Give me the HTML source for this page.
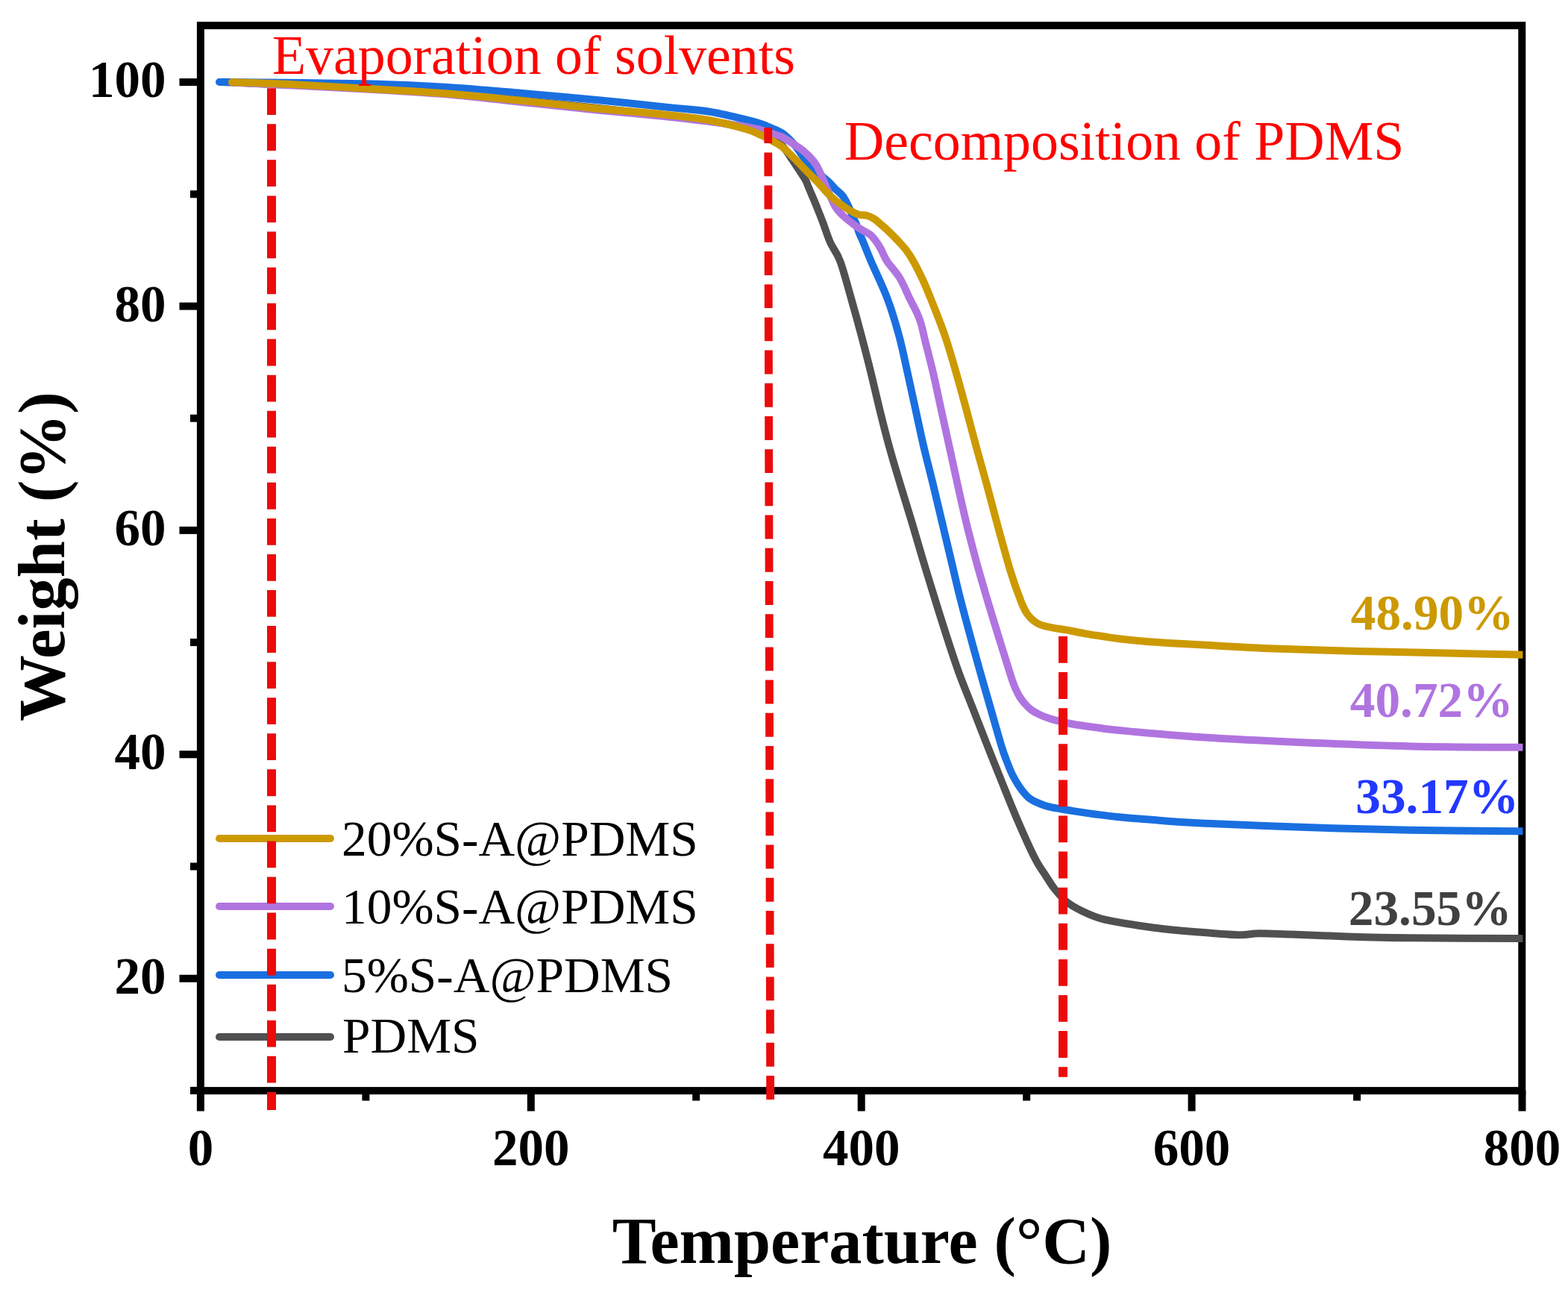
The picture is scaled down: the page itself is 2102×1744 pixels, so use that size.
<!DOCTYPE html>
<html><head><meta charset="utf-8"><style>
html,body{margin:0;padding:0;background:#fff;}
svg{display:block;}
text{font-family:"Liberation Serif","Times New Roman",serif;}
</style></head><body>
<svg width="2102" height="1744" viewBox="0 0 2102 1744">
<rect width="2102" height="1744" fill="#fff"/>
<defs><clipPath id="cp"><rect x="0" y="0" width="2041.5" height="1744"/></clipPath></defs>
<g fill="none" stroke="#000" stroke-width="10" stroke-linecap="butt">
<rect x="268.9" y="34.2" width="1771.4" height="1427.9" stroke-linejoin="miter"/>
<line x1="268.9" y1="1462" x2="268.9" y2="1489.5"/><line x1="711.8" y1="1462" x2="711.8" y2="1489.5"/><line x1="1154.7" y1="1462" x2="1154.7" y2="1489.5"/><line x1="1597.6" y1="1462" x2="1597.6" y2="1489.5"/><line x1="2040.5" y1="1462" x2="2040.5" y2="1489.5"/><line x1="490.4" y1="1462" x2="490.4" y2="1475.5"/><line x1="933.2" y1="1462" x2="933.2" y2="1475.5"/><line x1="1376.2" y1="1462" x2="1376.2" y2="1475.5"/><line x1="1819.1" y1="1462" x2="1819.1" y2="1475.5"/><line x1="240.5" y1="1311.7" x2="269" y2="1311.7"/><line x1="240.5" y1="1011.3" x2="269" y2="1011.3"/><line x1="240.5" y1="710.9" x2="269" y2="710.9"/><line x1="240.5" y1="410.5" x2="269" y2="410.5"/><line x1="240.5" y1="110.1" x2="269" y2="110.1"/><line x1="255" y1="1461.9" x2="269" y2="1461.9"/><line x1="255" y1="1161.5" x2="269" y2="1161.5"/><line x1="255" y1="861.1" x2="269" y2="861.1"/><line x1="255" y1="560.7" x2="269" y2="560.7"/><line x1="255" y1="260.3" x2="269" y2="260.3"/>
</g>
<g fill="none" stroke-width="10" stroke-linecap="round" stroke-linejoin="round" clip-path="url(#cp)">
<path stroke="#505050" d="M300.0 110.0 C346.7 112.3 480.0 116.3 580.0 124.0 C680.0 131.7 830.0 148.0 900.0 156.0 C970.0 164.0 976.7 166.3 1000.0 172.0 C1023.3 177.7 1031.7 185.8 1040.0 190.0 C1048.3 194.2 1046.2 192.8 1050.0 197.0 C1053.8 201.2 1057.9 207.9 1062.7 215.1 C1067.5 222.3 1075.5 234.2 1079.0 240.0 C1082.5 245.8 1082.0 246.7 1083.5 250.0 C1085.0 253.3 1086.3 256.7 1087.7 260.0 C1089.1 263.3 1090.6 266.7 1092.0 270.0 C1093.4 273.3 1094.0 275.0 1096.0 280.0 C1098.0 285.0 1101.0 292.5 1103.8 300.0 C1106.6 307.5 1109.3 316.7 1113.0 325.0 C1116.7 333.3 1121.5 337.5 1126.2 350.0 C1130.9 362.5 1136.2 383.3 1141.0 400.0 C1145.8 416.7 1150.4 433.3 1154.8 450.0 C1159.2 466.7 1163.5 483.3 1167.6 500.0 C1171.7 516.7 1175.4 533.3 1179.5 550.0 C1183.6 566.7 1187.8 583.3 1192.4 600.0 C1197.0 616.7 1202.1 633.3 1207.1 650.0 C1212.1 666.7 1217.4 683.3 1222.4 700.0 C1227.4 716.7 1232.1 733.3 1237.1 750.0 C1242.1 766.7 1247.2 783.3 1252.4 800.0 C1257.6 816.7 1262.7 833.3 1268.1 850.0 C1273.5 866.7 1278.8 883.3 1284.8 900.0 C1290.8 916.7 1297.8 933.3 1304.3 950.0 C1310.8 966.7 1317.2 983.3 1323.8 1000.0 C1330.4 1016.7 1337.0 1033.3 1343.8 1050.0 C1350.5 1066.7 1357.1 1083.3 1364.3 1100.0 C1371.5 1116.7 1381.1 1138.2 1387.1 1150.0 C1393.0 1161.8 1395.5 1164.0 1400.0 1171.0 C1404.5 1178.0 1408.9 1185.6 1414.0 1192.0 C1419.1 1198.4 1424.5 1204.6 1430.5 1209.4 C1436.5 1214.2 1442.4 1217.3 1450.0 1221.0 C1457.6 1224.7 1465.5 1228.5 1476.2 1231.5 C1486.9 1234.5 1500.3 1236.5 1514.3 1238.8 C1528.3 1241.1 1542.9 1243.3 1560.0 1245.2 C1577.1 1247.1 1600.0 1249.0 1617.0 1250.3 C1634.0 1251.6 1650.2 1253.0 1662.0 1253.2 C1673.8 1253.4 1676.4 1251.3 1688.0 1251.2 C1699.6 1251.1 1712.7 1251.9 1731.4 1252.6 C1750.1 1253.3 1773.3 1254.4 1800.0 1255.2 C1826.7 1256.0 1851.3 1256.8 1891.5 1257.3 C1931.7 1257.8 2016.1 1258.0 2041.0 1258.1"/>
<path stroke="#1A6FE0" d="M294.0 110.0 C328.3 110.4 449.0 111.3 500.0 112.5 C551.0 113.7 566.7 114.9 600.0 117.0 C633.3 119.1 666.7 122.2 700.0 125.0 C733.3 127.8 766.7 130.8 800.0 134.0 C833.3 137.2 875.0 141.8 900.0 144.4 C925.0 147.0 933.3 146.8 950.0 149.5 C966.7 152.2 988.3 157.6 1000.0 160.3 C1011.7 163.1 1014.2 164.1 1020.0 166.0 C1025.8 167.9 1030.0 169.8 1035.0 172.0 C1040.0 174.2 1045.0 175.8 1050.0 179.5 C1055.0 183.2 1060.0 188.2 1065.0 194.0 C1070.0 199.8 1075.0 208.5 1080.0 214.5 C1085.0 220.5 1090.0 225.2 1095.0 230.0 C1100.0 234.8 1105.8 239.1 1110.0 243.0 C1114.2 246.9 1116.7 250.2 1120.0 253.5 C1123.3 256.8 1126.9 258.8 1130.0 263.0 C1133.1 267.2 1136.1 273.9 1138.4 278.7 C1140.7 283.5 1142.0 288.1 1143.6 291.7 C1145.1 295.2 1146.3 296.6 1147.7 300.0 C1149.1 303.4 1150.2 308.3 1151.8 312.3 C1153.3 316.3 1154.4 317.7 1157.0 324.0 C1159.6 330.3 1162.2 337.3 1167.6 350.0 C1173.0 362.7 1183.2 383.3 1189.5 400.0 C1195.8 416.7 1200.7 433.3 1205.2 450.0 C1209.7 466.7 1213.0 483.3 1216.7 500.0 C1220.4 516.7 1223.9 533.3 1227.6 550.0 C1231.2 566.7 1234.7 583.3 1238.6 600.0 C1242.5 616.7 1247.0 633.3 1251.0 650.0 C1255.0 666.7 1258.9 683.3 1262.9 700.0 C1266.9 716.7 1270.8 733.3 1274.8 750.0 C1278.8 766.7 1282.5 783.3 1286.7 800.0 C1290.9 816.7 1295.5 833.3 1300.0 850.0 C1304.5 866.7 1309.1 883.3 1313.8 900.0 C1318.5 916.7 1323.3 933.3 1328.1 950.0 C1332.9 966.7 1338.9 988.3 1342.5 1000.0 C1346.1 1011.7 1347.2 1014.0 1349.5 1020.0 C1351.8 1026.0 1353.8 1031.2 1356.0 1036.0 C1358.2 1040.8 1360.7 1045.1 1363.0 1049.0 C1365.3 1052.9 1367.2 1055.8 1370.0 1059.3 C1372.8 1062.8 1376.7 1067.5 1380.0 1070.2 C1383.3 1072.9 1385.8 1073.8 1390.0 1075.6 C1394.2 1077.4 1399.8 1079.7 1405.0 1081.1 C1410.2 1082.5 1415.2 1083.2 1421.0 1084.2 C1426.8 1085.2 1431.8 1086.2 1440.0 1087.4 C1448.2 1088.7 1460.0 1090.4 1470.0 1091.7 C1480.0 1093.0 1488.3 1094.1 1500.0 1095.2 C1511.7 1096.3 1521.6 1097.2 1540.0 1098.6 C1558.4 1100.0 1575.3 1101.8 1610.5 1103.5 C1645.7 1105.2 1704.2 1107.5 1751.0 1109.1 C1797.8 1110.6 1843.2 1111.9 1891.5 1112.8 C1939.8 1113.7 2016.1 1114.0 2041.0 1114.2"/>
<path stroke="#B074E0" d="M311.0 110.5 C342.5 112.1 451.8 117.3 500.0 120.0 C548.2 122.7 566.7 123.7 600.0 126.5 C633.3 129.3 666.7 133.5 700.0 137.0 C733.3 140.5 766.7 144.2 800.0 147.5 C833.3 150.8 866.7 153.3 900.0 157.0 C933.3 160.7 976.7 166.0 1000.0 169.9 C1023.3 173.8 1031.7 178.3 1040.0 180.7 C1048.3 183.1 1045.8 182.3 1050.0 184.5 C1054.2 186.7 1060.0 190.6 1065.0 194.0 C1070.0 197.4 1075.0 200.2 1080.0 205.0 C1085.0 209.8 1090.0 214.0 1095.0 222.5 C1100.0 231.0 1105.8 246.8 1110.0 256.0 C1114.2 265.2 1116.7 272.0 1120.0 277.5 C1123.3 283.0 1125.7 284.9 1130.0 289.0 C1134.3 293.1 1141.6 298.7 1146.0 302.0 C1150.4 305.3 1153.0 306.6 1156.5 308.7 C1160.0 310.8 1163.8 312.4 1166.8 314.9 C1169.8 317.4 1172.2 320.5 1174.6 323.7 C1177.0 326.9 1178.6 329.6 1181.0 334.0 C1183.4 338.4 1184.9 343.7 1189.0 350.0 C1193.1 356.3 1200.7 363.7 1205.8 372.0 C1210.9 380.3 1215.5 392.0 1219.4 400.0 C1223.4 408.0 1226.9 414.2 1229.5 420.0 C1232.1 425.8 1233.1 428.3 1235.0 435.0 C1236.9 441.7 1238.3 449.2 1241.0 460.0 C1243.7 470.8 1247.5 485.0 1251.0 500.0 C1254.5 515.0 1258.2 533.3 1261.9 550.0 C1265.6 566.7 1269.2 583.3 1272.9 600.0 C1276.6 616.7 1280.1 633.3 1283.8 650.0 C1287.5 666.7 1291.2 683.3 1295.2 700.0 C1299.2 716.7 1303.6 733.3 1308.1 750.0 C1312.6 766.7 1317.5 783.3 1322.4 800.0 C1327.3 816.7 1332.5 833.3 1337.6 850.0 C1342.7 866.7 1349.9 889.5 1353.2 900.0 C1356.5 910.5 1356.0 909.1 1357.4 913.1 C1358.8 917.1 1360.1 920.3 1361.7 923.8 C1363.3 927.3 1364.8 930.6 1366.9 934.0 C1369.0 937.4 1371.8 941.0 1374.5 944.0 C1377.2 947.0 1379.9 949.7 1382.9 951.9 C1385.9 954.1 1389.2 955.8 1392.4 957.4 C1395.6 959.0 1398.5 960.2 1401.9 961.4 C1405.3 962.6 1406.2 963.2 1412.6 964.8 C1418.9 966.4 1430.4 969.3 1440.0 971.0 C1449.6 972.7 1460.0 973.9 1470.0 975.2 C1480.0 976.5 1476.6 976.8 1500.0 979.0 C1523.4 981.2 1568.7 985.6 1610.5 988.3 C1652.3 991.0 1704.2 993.4 1751.0 995.4 C1797.8 997.4 1843.2 999.3 1891.5 1000.4 C1939.8 1001.5 2016.1 1001.6 2041.0 1001.8"/>
<path stroke="#CC9900" d="M311.0 110.2 C323.3 110.6 353.5 111.3 385.0 112.8 C416.5 114.3 464.2 117.2 500.0 119.3 C535.8 121.4 566.7 122.9 600.0 125.5 C633.3 128.1 666.7 131.7 700.0 135.0 C733.3 138.3 770.0 142.6 800.0 145.5 C830.0 148.4 855.0 149.9 880.0 152.5 C905.0 155.1 930.0 157.6 950.0 161.0 C970.0 164.4 988.3 169.7 1000.0 173.0 C1011.7 176.3 1013.3 177.9 1020.0 181.0 C1026.7 184.1 1035.0 188.7 1040.0 191.5 C1045.0 194.3 1045.8 194.5 1050.0 198.0 C1054.2 201.5 1060.0 207.5 1065.0 212.5 C1070.0 217.5 1075.0 222.9 1080.0 228.0 C1085.0 233.1 1090.0 237.8 1095.0 243.0 C1100.0 248.2 1105.8 255.2 1110.0 259.5 C1114.2 263.8 1116.7 265.8 1120.0 268.5 C1123.3 271.2 1126.5 273.6 1130.0 276.0 C1133.5 278.4 1137.5 281.0 1141.0 283.0 C1144.5 285.0 1147.5 286.8 1151.0 287.8 C1154.5 288.8 1158.2 287.9 1161.7 288.8 C1165.2 289.8 1168.6 291.3 1172.0 293.5 C1175.4 295.7 1178.9 299.0 1182.3 302.0 C1185.7 305.0 1188.9 307.7 1192.6 311.3 C1196.3 314.9 1200.8 319.5 1204.5 323.5 C1208.2 327.5 1211.7 331.1 1215.0 335.5 C1218.3 339.9 1220.6 343.4 1224.3 350.0 C1228.0 356.6 1233.1 366.7 1237.0 375.0 C1240.9 383.3 1242.6 387.5 1247.6 400.0 C1252.5 412.5 1261.0 433.3 1266.7 450.0 C1272.4 466.7 1277.1 483.3 1281.9 500.0 C1286.7 516.7 1291.2 533.3 1295.7 550.0 C1300.2 566.7 1304.5 583.3 1309.0 600.0 C1313.5 616.7 1318.4 633.3 1322.9 650.0 C1327.4 666.7 1331.7 683.3 1336.2 700.0 C1340.7 716.7 1346.7 738.3 1350.0 750.0 C1353.3 761.7 1354.0 763.7 1356.0 770.0 C1358.0 776.3 1360.2 783.0 1362.0 788.0 C1363.8 793.0 1365.1 796.2 1366.5 800.0 C1367.9 803.8 1368.8 806.8 1370.5 810.5 C1372.2 814.2 1374.3 819.0 1376.7 822.5 C1379.1 826.0 1382.1 829.2 1385.1 831.7 C1388.1 834.2 1390.0 835.8 1394.5 837.4 C1399.0 839.0 1406.0 840.5 1411.8 841.6 C1417.5 842.8 1421.8 843.0 1429.0 844.3 C1436.2 845.6 1446.3 847.8 1454.8 849.3 C1463.3 850.8 1472.5 852.1 1480.0 853.3 C1487.5 854.4 1491.3 855.2 1500.0 856.2 C1508.7 857.2 1520.7 858.5 1532.4 859.5 C1544.1 860.5 1557.3 861.4 1570.0 862.2 C1582.7 863.0 1586.9 863.1 1608.6 864.3 C1630.3 865.5 1664.8 867.9 1700.0 869.3 C1735.2 870.7 1780.0 871.9 1820.0 872.9 C1860.0 873.9 1903.2 874.7 1940.0 875.5 C1976.8 876.3 2024.2 877.3 2041.0 877.7"/>
</g>
<g stroke-width="10" stroke-linecap="round">
<line x1="294" y1="1124" x2="443" y2="1124" stroke="#CC9900"/>
<line x1="294" y1="1215" x2="443" y2="1215" stroke="#B074E0"/>
<line x1="294" y1="1307" x2="443" y2="1307" stroke="#1A6FE0"/>
<line x1="294" y1="1390" x2="443" y2="1390" stroke="#505050"/>
</g>
<g stroke="#EC0B0B" fill="none">
<line x1="364" y1="118.2" x2="364" y2="1488" stroke-width="12" stroke-dasharray="35.8 12.26"/>
<line x1="1029.7" y1="170.9" x2="1032.7" y2="1486" stroke-width="10.8" stroke-dasharray="31.9 12.3" stroke-dashoffset="10.7"/>
<line x1="1425" y1="853" x2="1425" y2="1443.7" stroke-width="12" stroke-dasharray="35.8 12.3"/>
</g>
<g font-size="69" font-weight="bold" fill="#000">
<text x="268.9" y="1562" text-anchor="middle">0</text><text x="711.8" y="1562" text-anchor="middle">200</text><text x="1154.7" y="1562" text-anchor="middle">400</text><text x="1597.6" y="1562" text-anchor="middle">600</text><text x="2040.5" y="1562" text-anchor="middle">800</text>
<text x="222.5" y="1331.7" text-anchor="end">20</text><text x="222.5" y="1031.3" text-anchor="end">40</text><text x="222.5" y="730.9" text-anchor="end">60</text><text x="222.5" y="430.5" text-anchor="end">80</text><text x="222.5" y="130.1" text-anchor="end">100</text>
</g>
<g font-size="67.4" fill="#000">
<text x="458" y="1146.7">20%S-A@PDMS</text>
<text x="458" y="1238">10%S-A@PDMS</text>
<text x="458" y="1329.6">5%S-A@PDMS</text>
<text x="459" y="1411.4">PDMS</text>
</g>
<g font-size="73.8" fill="#FF0000">
<text x="365" y="98.6">Evaporation of solvents</text>
<text x="1132" y="213.9">Decomposition of PDMS</text>
</g>
<g font-size="67.3" font-weight="bold" text-anchor="end">
<text x="2029.5" y="844.3" fill="#CC9900">48.90%</text>
<text x="2028.5" y="961.3" fill="#B074E0">40.72%</text>
<text x="2036" y="1090.3" fill="#2238FF">33.17%</text>
<text x="2026.5" y="1240.4" fill="#404040">23.55%</text>
</g>
<g font-size="88.2" font-weight="bold" fill="#000">
<text x="820.7" y="1693">Temperature (°C)</text>
<text transform="translate(86,967) rotate(-90)" x="0" y="0" font-size="88.9">Weight (%)</text>
</g>
</svg>
</body></html>
